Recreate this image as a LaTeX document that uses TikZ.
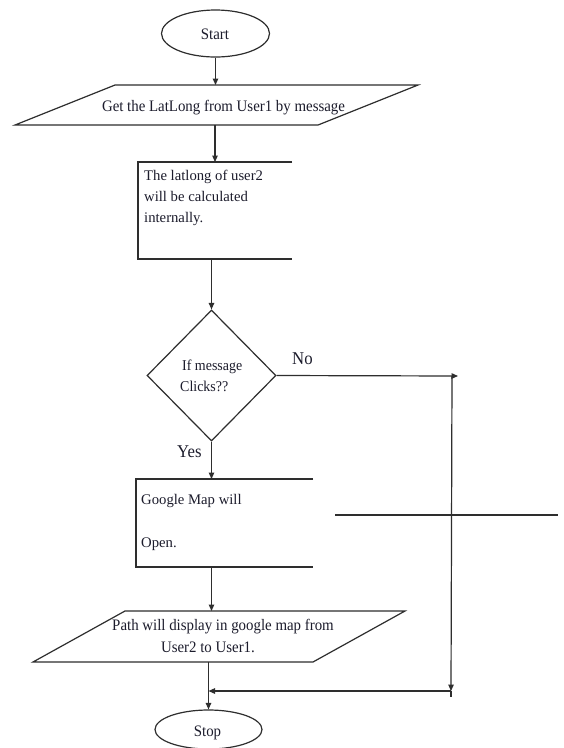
\documentclass[tikz,border=0pt]{standalone}
\usepackage{fontspec}
\setmainfont{Liberation Serif}
\newfontfamily\narrowserif[FakeStretch=0.93]{Liberation Serif}
\usetikzlibrary{shapes.geometric,arrows.meta}

\definecolor{linegray}{HTML}{2E2E2E}
\definecolor{inkdark}{HTML}{1C1C2C}

\tikzset{
  flow/.style={draw=linegray, line width=1.2pt},
  arr/.style={flow, -{Triangle[length=6.5pt,width=5.5pt]}},
  terminal/.style={ellipse, flow, inner sep=0pt},
  decision/.style={diamond, flow, inner sep=0pt},
  frame/.style={inner sep=0pt, outer sep=0pt},
  narrowtxt/.style={inner sep=0pt, text=inkdark, font=\narrowserif\fontsize{16}{19}\selectfont},
  plaintxt/.style={inner sep=0pt, text=inkdark, font=\fontsize{14.7}{21}\selectfont},
  answer/.style={inner sep=0pt, text=inkdark, font=\narrowserif\fontsize{18}{21}\selectfont},
}

\begin{document}
\begin{tikzpicture}[x=1pt, y=-1pt]
  \fill[white] (0,0) rectangle (564,748);
  \useasboundingbox (0,0) rectangle (564,748);

  % terminals
  \node[terminal, minimum width=108pt, minimum height=47pt] (start) at (215.5,33.5) {};
  \node[narrowtxt, anchor=base] (starttxt) at (215,39) {Start};

  \node[terminal, minimum width=107pt, minimum height=39pt] (stop) at (208.5,729.5) {};
  \node[narrowtxt, anchor=base] (stoptxt) at (207.5,736) {Stop};

  % input: location from user 1 (slanted box drawn around the node)
  \node[frame, minimum width=303pt, minimum height=40pt] (getpos) at (216.5,105) {};
  \draw[flow] ([xshift=50pt]getpos.north west) -- ([xshift=50pt]getpos.north east)
    -- ([xshift=-50pt]getpos.south east) -- ([xshift=-50pt]getpos.south west) -- cycle;
  \node[narrowtxt, anchor=base] (getpostxt) at (223.5,111) {Get the LatLong from User1 by message};

  % process: compute location of user 2
  \node[frame, minimum width=154pt, minimum height=97pt] (calc) at (215,210.5) {};
  \draw[flow] (calc.north east) -- (calc.north west) -- (calc.south west) -- (calc.south east);
  \node[plaintxt, anchor=base west] (calc1) at (144,180) {The latlong of user2};
  \node[plaintxt, anchor=base west] (calc2) at (144,201) {will be calculated};
  \node[plaintxt, anchor=base west] (calc3) at (144,222) {internally.};

  % decision
  \node[decision, minimum width=129pt, minimum height=131pt] (query) at (211.5,375.5) {};
  \node[narrowtxt, font=\narrowserif\fontsize{15}{18}\selectfont, anchor=base west] (query1) at (182,370) {If message};
  \node[narrowtxt, font=\narrowserif\fontsize{15}{18}\selectfont, anchor=base west] (query2) at (180,391) {Clicks??};
  \node[answer, anchor=base west] (nolbl) at (292,364) {No};
  \node[answer, anchor=base west] (yeslbl) at (177,457) {Yes};

  % process: open the map
  \node[frame, minimum width=177pt, minimum height=88pt] (show) at (224.5,523) {};
  \draw[flow] (show.north east) -- (show.north west) -- (show.south west) -- (show.south east);
  \node[plaintxt, anchor=base west] (show1) at (141,504) {Google Map will};
  \node[plaintxt, anchor=base west] (show2) at (141,547) {Open.};

  % output: route display (slanted box drawn around the node)
  \node[frame, minimum width=280pt, minimum height=51pt] (route) at (219,636.5) {};
  \draw[flow] ([xshift=46pt]route.north west) -- ([xshift=46pt]route.north east)
    -- ([xshift=-46pt]route.south east) -- ([xshift=-46pt]route.south west) -- cycle;
  \node[narrowtxt, anchor=base] (route1) at (223,630) {Path will display in google map from};
  \node[narrowtxt, anchor=base] (route2) at (208,652) {User2 to User1.};

  % loop-back path for the "No" branch
  \coordinate (noend) at (458,376);
  \coordinate (looptop) at (452,376);
  \coordinate (loopcorner) at (451,691);
  \coordinate (loopfoot) at (451,697);
  \coordinate (merge) at (208.5,691);
  \coordinate (strayL) at (335,515);
  \coordinate (strayR) at (558,515);

  % connectors
  \draw[arr] (start.south) -- (start.south |- getpos.north);
  \draw[arr] (calc.north |- getpos.south) -- (calc.north);
  \draw[arr] (query.north |- calc.south) -- (query.north);
  \draw[arr] (query.east) -- (noend);
  \draw[arr] (looptop) -- (loopcorner);
  \draw[flow] (loopcorner) -- (loopfoot);
  \draw[arr] (loopcorner) -- (merge);
  \draw[arr] (query.south) -- (query.south |- show.north);
  \draw[arr] (query.south |- show.south) -- (query.south |- route.north);
  \draw[arr] (stop.north |- route.south) -- (stop.north);
  \draw[flow] (strayL) -- (strayR);
\end{tikzpicture}
\end{document}
